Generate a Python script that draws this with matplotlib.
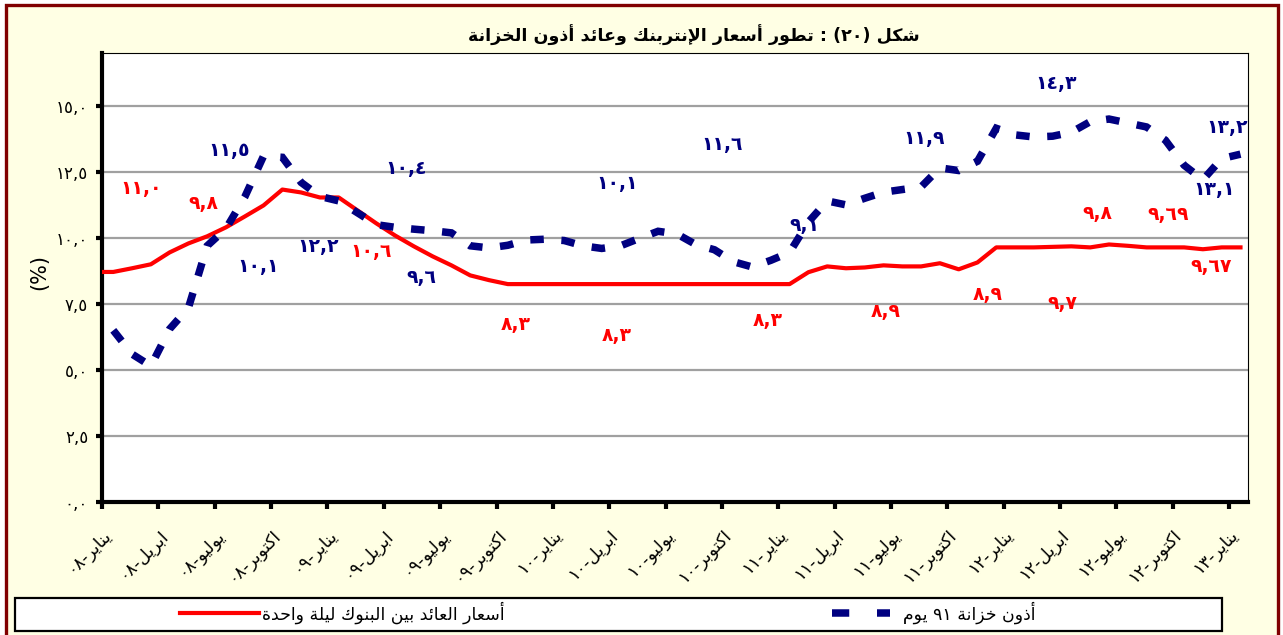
import numpy as np
import matplotlib
matplotlib.use("Agg")
import matplotlib.pyplot as plt
from matplotlib.patches import Rectangle
from matplotlib.lines import Line2D
from matplotlib.transforms import ScaledTranslation

# ---------------- data ----------------
title_text = "شكل (٢٠) : تطور أسعار الإنتربنك وعائد أذون الخزانة"
series_names = ["أسعار العائد بين البنوك ليلة واحدة", "أذون خزانة ٩١ يوم"]

month_names = ["يناير", "ابريل", "يوليو", "اكتوبر"]
years = ["٠٨", "٠٩", "١٠", "١١", "١٢", "١٣"]

# monthly observations Jan-08 .. Jan-13 (taken ~60% into each month)
obs_offset = 0.6
interbank_start = 8.71   # value on 1 Jan 2008
interbank = [8.71, 8.85, 9.00, 9.45, 9.79, 10.06, 10.40, 10.81, 11.23, 11.83,
             11.72, 11.53, 11.53, 11.04, 10.55, 10.09, 9.68, 9.30, 8.96, 8.58,
             8.40, 8.25, 8.25, 8.25, 8.25, 8.25, 8.25, 8.25, 8.25, 8.25,
             8.25, 8.25, 8.25, 8.25, 8.25, 8.25, 8.25,
             8.70, 8.92, 8.85, 8.88, 8.96, 8.92, 8.92, 9.04, 8.81, 9.07,
             9.64, 9.64, 9.64, 9.66, 9.68, 9.64, 9.75, 9.70, 9.64, 9.64,
             9.64, 9.57, 9.64, 9.64]
tbill91 = [6.50, 5.60, 5.15, 6.55, 7.35, 9.70, 10.35, 11.55, 13.10, 13.05,
           12.10, 11.57, 11.40, 10.95, 10.50, 10.40, 10.33, 10.27, 10.19, 9.70,
           9.62, 9.72, 9.92, 9.95, 9.90, 9.70, 9.60, 9.70, 9.98, 10.25,
           10.15, 9.75, 9.55, 9.10, 8.90, 9.15, 9.45, 10.60, 11.40, 11.25,
           11.50, 11.73, 11.83, 11.93, 12.65, 12.55, 12.90, 14.15, 13.90, 13.82,
           13.85, 14.00, 14.40, 14.50, 14.35, 14.20, 13.70, 12.75, 12.20, 13.00,
           13.17]

y_ticks = [0.0, 2.5, 5.0, 7.5, 10.0, 12.5, 15.0]
y_tick_labels = ["٠,٠", "٢,٥", "٥,٠", "٧,٥", "١٠,٠", "١٢,٥", "١٥,٠"]

# data labels: (text, month position, value)
red_labels = [("١١,٠", 2.1, 11.87), ("٩,٨", 5.4, 11.30), ("١٠,٦", 14.35, 9.47),
              ("٨,٣", 22.0, 6.72), ("٨,٣", 27.4, 6.31), ("٨,٣", 35.45, 6.88),
              ("٨,٩", 41.7, 7.20), ("٨,٩", 47.17, 7.87), ("٩,٧", 51.1, 7.52),
              ("٩,٨", 53.0, 10.91), ("٩,٦٩", 56.75, 10.89), ("٩,٦٧", 59.05, 8.93)]
blue_labels = [("١١,٥", 6.77, 13.31), ("١٠,٤", 16.2, 12.61), ("١٠,١", 8.3, 8.93),
               ("١٢,٢", 11.5, 9.69), ("٩,٦", 17.0, 8.49), ("١٠,١", 27.4, 12.05),
               ("١١,٦", 33.0, 13.54), ("٩,١", 37.38, 10.47), ("١١,٩", 43.75, 13.75),
               ("١٤,٣", 50.8, 15.86), ("١٣,٢", 59.9, 14.19), ("١٣,١", 59.2, 11.84)]

# ---------------- Arabic shaping helpers ----------------
FORMS = {
    '\u0627': ('\uFE8D', '\uFE8E', None, None),
    '\u0623': ('\uFE83', '\uFE84', None, None),
    '\u0625': ('\uFE87', '\uFE88', None, None),
    '\u0628': ('\uFE8F', '\uFE90', '\uFE91', '\uFE92'),
    '\u0629': ('\uFE93', '\uFE94', None, None),
    '\u062A': ('\uFE95', '\uFE96', '\uFE97', '\uFE98'),
    '\u062D': ('\uFEA1', '\uFEA2', '\uFEA3', '\uFEA4'),
    '\u062E': ('\uFEA5', '\uFEA6', '\uFEA7', '\uFEA8'),
    '\u062F': ('\uFEA9', '\uFEAA', None, None),
    '\u0630': ('\uFEAB', '\uFEAC', None, None),
    '\u0631': ('\uFEAD', '\uFEAE', None, None),
    '\u0632': ('\uFEAF', '\uFEB0', None, None),
    '\u0633': ('\uFEB1', '\uFEB2', '\uFEB3', '\uFEB4'),
    '\u0634': ('\uFEB5', '\uFEB6', '\uFEB7', '\uFEB8'),
    '\u0637': ('\uFEC1', '\uFEC2', '\uFEC3', '\uFEC4'),
    '\u0639': ('\uFEC9', '\uFECA', '\uFECB', '\uFECC'),
    '\u0643': ('\uFED9', '\uFEDA', '\uFEDB', '\uFEDC'),
    '\u0644': ('\uFEDD', '\uFEDE', '\uFEDF', '\uFEE0'),
    '\u0645': ('\uFEE1', '\uFEE2', '\uFEE3', '\uFEE4'),
    '\u0646': ('\uFEE5', '\uFEE6', '\uFEE7', '\uFEE8'),
    '\u0648': ('\uFEED', '\uFEEE', None, None),
    '\u064A': ('\uFEF1', '\uFEF2', '\uFEF3', '\uFEF4'),
    '\u0626': ('\uFE89', '\uFE8A', '\uFE8B', '\uFE8C'),
}
LAM_ALEF = {'\u0627': ('\uFEFB', '\uFEFC'), '\u0623': ('\uFEF7', '\uFEF8'),
            '\u0625': ('\uFEF9', '\uFEFA')}
DIGITS = set('0123456789٠١٢٣٤٥٦٧٨٩')
MIRROR = {'(': ')', ')': '('}


def shape(text):
    out = []
    n = len(text)
    i = 0
    while i < n:
        c = text[i]
        if c not in FORMS:
            out.append(c)
            i += 1
            continue
        prev = text[i - 1] if i > 0 else None
        prev_joins = prev in FORMS and FORMS[prev][2] is not None
        nxt = text[i + 1] if i + 1 < n else None
        if c == '\u0644' and nxt in LAM_ALEF:
            out.append(LAM_ALEF[nxt][1 if prev_joins else 0])
            i += 2
            continue
        next_joins = (nxt in FORMS) and FORMS[c][2] is not None
        iso, fin, ini, med = FORMS[c]
        if prev_joins and next_joins:
            out.append(med)
        elif prev_joins:
            out.append(fin)
        elif next_joins:
            out.append(ini)
        else:
            out.append(iso)
        i += 1
    return ''.join(out)


def visual(text):
    rev = shape(text)[::-1]
    out = []
    i = 0
    while i < len(rev):
        if rev[i] in DIGITS:
            j = i
            while j < len(rev) and rev[j] in DIGITS:
                j += 1
            out.append(rev[i:j][::-1])
            i = j
        else:
            out.append(MIRROR.get(rev[i], rev[i]))
            i += 1
    return ''.join(out)


# ---------------- figure ----------------
W, H, DPI = 1283, 635, 100
plt.rcParams['font.family'] = ['DejaVu Sans']
fig = plt.figure(figsize=(W / DPI, H / DPI), dpi=DPI, facecolor='white')


def fx(px):
    return px / W


def fy(py):
    return 1 - py / H


# outer chart area with dark-red border
fig.patches.append(Rectangle((fx(6), fy(645)), fx(1278) - fx(6), fy(5) - fy(645),
                             transform=fig.transFigure, facecolor='#FFFFE4',
                             edgecolor='#800000', linewidth=2.4, zorder=-10))

ax = fig.add_axes([fx(102), fy(502), fx(1248) - fx(102), fy(53) - fy(502)])
ax.set_facecolor('white')

red_x = [0.0] + list(np.arange(len(interbank)) + obs_offset)
red_y = [interbank_start] + interbank
blue_x = np.arange(len(tbill91)) + obs_offset

ax.plot(red_x, red_y, color='#FF0000', linewidth=3.0, solid_joinstyle='round', zorder=3)
ax.plot(blue_x, tbill91, color='#000080', linewidth=5.4, linestyle=(0, (1.8, 2.35)),
        dash_capstyle='butt', dash_joinstyle='miter', zorder=4)

ax.set_xlim(0, 61)
ax.set_ylim(0, 17)

# axes styling
ax.set_yticks(y_ticks)
ax.set_yticklabels(y_tick_labels, fontsize=12)
x_ticks = np.arange(0, 61, 3)
x_labels = [visual(f"{month_names[(i // 3) % 4]}-{years[i // 12]}") for i in x_ticks]
ax.set_xticks(x_ticks)
ax.set_xticklabels(x_labels, rotation=45, ha='right', va='top',
                   rotation_mode='anchor', fontsize=12.5)
offset = ScaledTranslation(1.5 / DPI, 0, fig.dpi_scale_trans)
for lab in ax.get_xticklabels():
    lab.set_transform(lab.get_transform() + offset)

ax.tick_params(axis='x', direction='out', length=5, width=3, pad=12, color='black')
ax.tick_params(axis='y', direction='out', length=4, width=3, pad=6, color='black')

ax.yaxis.grid(True, color='#A0A0A0', linewidth=1.6)
ax.set_axisbelow(True)
for side in ['left', 'bottom']:
    ax.spines[side].set_linewidth(3)
    ax.spines[side].set_color('black')
for side in ['top', 'right']:
    ax.spines[side].set_linewidth(0.8)
    ax.spines[side].set_color('black')

# data labels
for txt, mx, vy in red_labels:
    ax.text(mx, vy, txt, color='#FF0000', fontsize=13.5, fontweight='bold',
            ha='center', va='center', zorder=5)
for txt, mx, vy in blue_labels:
    ax.text(mx, vy, txt, color='#000080', fontsize=13.5, fontweight='bold',
            ha='center', va='center', zorder=5)

# title and y label
fig.text(fx(694), fy(35), visual(title_text), ha='center', va='center',
         fontsize=12.6, fontweight='bold')
fig.text(fx(39), fy(272), '(%)', rotation=90, ha='center', va='center', fontsize=15)

# legend (drawn as a box spanning the chart bottom)
fig.patches.append(Rectangle((fx(15), fy(631)), fx(1222) - fx(15), fy(598) - fy(631),
                             transform=fig.transFigure, facecolor='white',
                             edgecolor='black', linewidth=1.6, zorder=1))
fig.lines.append(Line2D([fx(180), fx(259)], [fy(613), fy(613)], transform=fig.transFigure,
                        color='#FF0000', linewidth=3.0, zorder=2))
fig.text(fx(262), fy(613), visual(series_names[0]), ha='left', va='center', fontsize=12.5, zorder=2)
fig.lines.append(Line2D([fx(832), fx(890)], [fy(613), fy(613)], transform=fig.transFigure,
                        color='#000080', linewidth=5.4, linestyle=(0, (2.3, 3.7)),
                        dash_capstyle='butt', zorder=2))
fig.text(fx(903), fy(613), visual(series_names[1]), ha='left', va='center', fontsize=12.5, zorder=2)

fig.savefig('out.png', dpi=DPI, facecolor=fig.get_facecolor())
